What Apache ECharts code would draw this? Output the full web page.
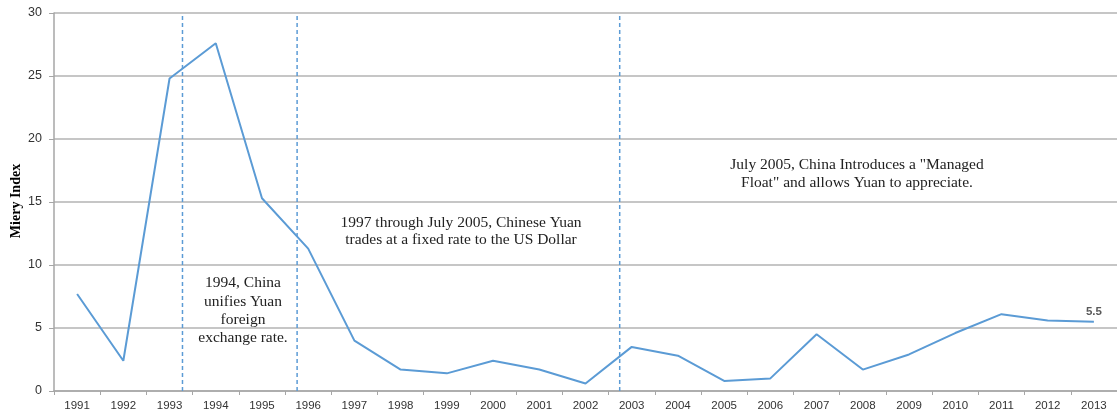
<!DOCTYPE html>
<html>
<head>
<meta charset="utf-8">
<script src="https://cdn.jsdelivr.net/npm/echarts@6/dist/echarts.min.js"></script>
<style>
html,body{margin:0;padding:0;background:#fff;}
#chart{width:1117px;height:417px;}
</style>
</head>
<body>
<div id="chart"></div>
<script>
const years = ['1991','1992','1993','1994','1995','1996','1997','1998','1999','2000','2001','2002','2003','2004','2005','2006','2007','2008','2009','2010','2011','2012','2013'];
const mieryIndex = [7.7,2.4,24.8,27.6,15.3,11.3,4.0,1.7,1.4,2.4,1.7,0.6,3.5,2.8,0.8,1.0,4.5,1.7,2.9,4.6,6.1,5.6,5.5];
const eventPositions = [2.28, 4.76, 11.74]; // fractional category index of dashed event lines
const yTicks = {min: 0, max: 30, interval: 5};
const yAxisTitle = 'Miery Index';
const annotations = [
  {text: '1994, China\nunifies Yuan\nforeign\nexchange rate.', x: 243, y: 274, lh: 18.3},
  {text: '1997 through July 2005, Chinese Yuan\ntrades at a fixed rate to the US Dollar', x: 461, y: 214, lh: 17},
  {text: 'July 2005, China Introduces a "Managed\nFloat" and allows Yuan to appreciate.', x: 857, y: 156, lh: 18}
];

const chart = echarts.init(document.getElementById('chart'));
const lineColor = '#5b9bd5';
const lastIdx = mieryIndex.length - 1;
const seriesData = mieryIndex.map((v, i) => i === lastIdx
  ? {value: v, label: {show: true, position: 'top', distance: 3, color: '#595959', fontWeight: 'bold', fontSize: 11.5, fontFamily: 'Liberation Sans'}}
  : v);

const eventSeries = eventPositions.map(p => ({
  type: 'line',
  xAxisIndex: 1,
  data: [[p, yTicks.min], [p, yTicks.max]],
  symbol: 'none',
  silent: true,
  lineStyle: {color: lineColor, width: 1.5, type: [4, 3]},
  z: 1
}));

const graphics = annotations.map((a, i) => ({
  id: 'ann' + i,
  type: 'text',
  x: a.x,
  y: a.y,
  style: {
    text: a.text,
    font: '15.5px "Liberation Serif"',
    fill: '#222',
    align: 'center',
    verticalAlign: 'top',
    lineHeight: a.lh
  },
  z: 10
}));
graphics.push({
  id: 'ytitle',
  type: 'text',
  x: 16,
  y: 201,
  rotation: Math.PI / 2,
  style: {
    text: yAxisTitle,
    font: 'bold 14px "Liberation Serif"',
    fill: '#000',
    align: 'center',
    verticalAlign: 'middle'
  }
});

chart.setOption({
  animation: false,
  grid: {left: 54, right: 0, top: 13, bottom: 26, containLabel: false, outerBoundsMode: 'none'},
  xAxis: [{
    type: 'category',
    data: years,
    boundaryGap: true,
    axisLine: {lineStyle: {color: '#a6a6a6', width: 1.5}},
    axisTick: {show: true, length: 4, lineStyle: {color: '#a6a6a6'}},
    axisLabel: {color: '#333', fontSize: 11.5, fontFamily: 'Liberation Sans', margin: 9, interval: 0},
    splitLine: {show: false}
  }, {
    type: 'value',
    min: -0.5,
    max: years.length - 0.5,
    show: false
  }],
  yAxis: {
    type: 'value',
    min: yTicks.min,
    max: yTicks.max,
    interval: yTicks.interval,
    axisLine: {show: true, onZero: false, lineStyle: {color: '#a6a6a6', width: 1.5}},
    axisTick: {show: true, length: 5, lineStyle: {color: '#a6a6a6'}},
    axisLabel: {color: '#333', fontSize: 12.5, fontFamily: 'Liberation Sans', margin: 12},
    splitLine: {lineStyle: {color: '#b3b3b3', width: 1.5}}
  },
  series: [{
    type: 'line',
    data: seriesData,
    symbol: 'circle',
    symbolSize: 1,
    showSymbol: true,
    itemStyle: {color: 'rgba(0,0,0,0)'},
    lineStyle: {color: lineColor, width: 2},
    label: {show: false},
    z: 3
  }].concat(eventSeries),
  graphic: graphics
});
</script>
</body>
</html>
